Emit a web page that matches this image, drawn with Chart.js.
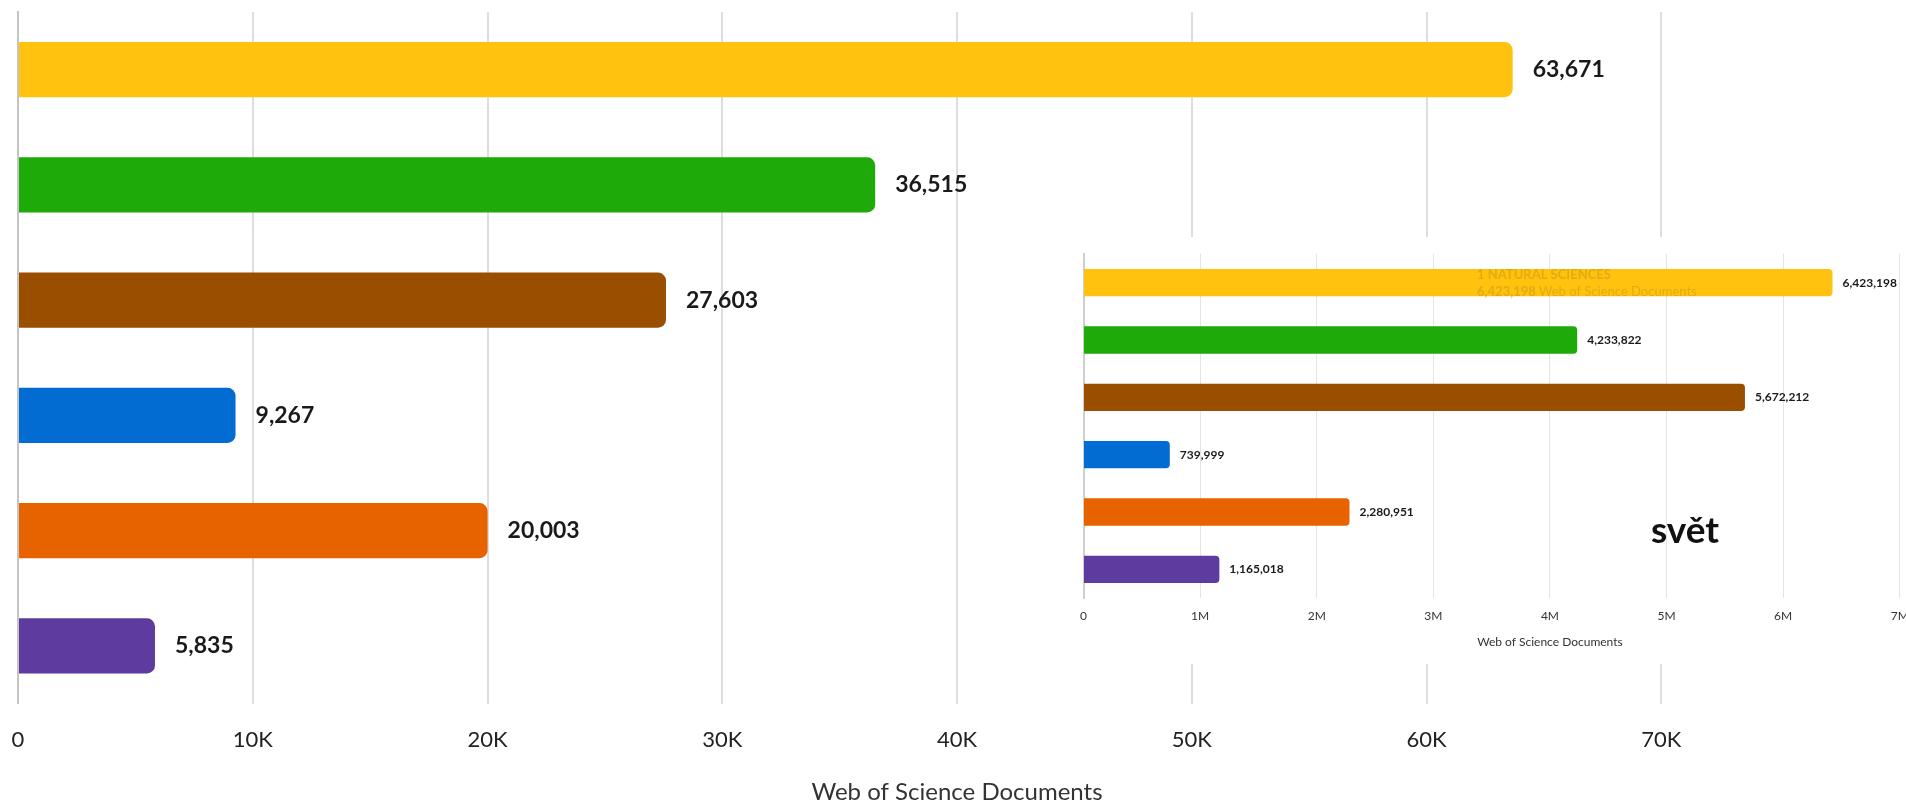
<!DOCTYPE html>
<html lang="cs">
<head>
  <meta charset="UTF-8" />
  <title>Web of Science Documents</title>
  <script src="https://cdn.jsdelivr.net/npm/chart.js"></script>
  <style>
    html, body { margin: 0; padding: 0; background: #fff; overflow: hidden; }
    body { width: 1906px; height: 803px; position: relative; font-family: Lato, "Open Sans", sans-serif; }
    #main { position: absolute; left: 0; top: 0; }
    #insetBox { position: absolute; left: 1040px; top: 237px; width: 866px; height: 427px; background: #fff; overflow: hidden; }
    #inset { position: absolute; left: 0; top: 0; }
    #svet { position: absolute; left: 1685px; top: 528px; transform: translate(-50%, -50%);
            font: 700 37px Lato, sans-serif; color: #111; white-space: nowrap; }
  </style>
</head>
<body>
  <canvas id="main" width="1906" height="803"></canvas>
  <div id="insetBox">
    <canvas id="inset" width="986" height="427"></canvas>
  </div>
  <div id="svet">svět</div>

  <script>
    // categories (y axis labels are hidden in the picture)
    const categories = [
      '1 NATURAL SCIENCES',
      '2 ENGINEERING AND TECHNOLOGY',
      '3 MEDICAL AND HEALTH SCIENCES',
      '4 AGRICULTURAL SCIENCES',
      '5 SOCIAL SCIENCES',
      '6 HUMANITIES'
    ];
    const barColors = ['#FFC20E', '#1EAA08', '#9A4E00', '#036CD2', '#E66300', '#5E3B9E'];

    // main chart (country)
    const docsCountry = [63671, 36515, 27603, 9267, 20003, 5835];
    const countryTicks = [0, 10000, 20000, 30000, 40000, 50000, 60000, 70000];

    // inset chart (svět / world)
    const docsWorld = [6423198, 4233822, 5672212, 739999, 2280951, 1165018];
    const worldTicks = [0, 1e6, 2e6, 3e6, 4e6, 5e6, 6e6, 7e6];

    const axisTitle = 'Web of Science Documents';
    const fmt = n => n.toLocaleString('en-US');

    // draws the value next to the end of each bar
    function valueLabels(font, gap) {
      return {
        id: 'valueLabels',
        afterDatasetsDraw(chart) {
          const ctx = chart.ctx;
          const meta = chart.getDatasetMeta(0);
          const vals = chart.data.datasets[0].data;
          ctx.save();
          ctx.font = font;
          ctx.fillStyle = '#1a1a1a';
          ctx.textBaseline = 'middle';
          ctx.textAlign = 'left';
          meta.data.forEach((bar, i) => {
            ctx.fillText(fmt(vals[i]), bar.x + gap, bar.y);
          });
          ctx.restore();
        }
      };
    }

    // tick padding is doubled by chart.js and also pads the sides,
    // so the label gap is made with an invisible tick mark instead
    new Chart(document.getElementById('main'), {
      type: 'bar',
      data: {
        labels: categories,
        datasets: [{
          data: docsCountry,
          backgroundColor: barColors,
          borderRadius: 8,
          categoryPercentage: 1,
          barPercentage: 0.478
        }]
      },
      options: {
        indexAxis: 'y',
        responsive: false,
        animation: false,
        layout: { padding: { left: 18, right: 10, top: 12, bottom: 0 } },
        plugins: { legend: { display: false }, tooltip: { enabled: false } },
        scales: {
          x: {
            min: 0,
            max: 80000,
            afterBuildTicks: axis => {
              axis.ticks = countryTicks.concat([80000]).map(v => ({ value: v }));
            },
            grid: {
              drawTicks: true,
              tickLength: 23,
              tickColor: 'rgba(0,0,0,0)',
              lineWidth: 2,
              color: c => (c.tick && c.tick.value === 80000) ? 'rgba(0,0,0,0)' : '#dedede'
            },
            border: { display: false },
            ticks: {
              padding: 0,
              color: '#222',
              font: { family: 'Lato', size: 22 },
              callback: v => v === 0 ? '0' : (v >= 80000 ? '' : (v / 1000) + 'K')
            },
            title: {
              display: true,
              text: axisTitle,
              color: '#333',
              font: { family: 'Lato', size: 24, lineHeight: 0.9 },
              padding: { top: 28.5, bottom: 0 }
            }
          },
          y: {
            ticks: { display: false },
            grid: { display: false, drawTicks: false },
            border: { display: true, color: '#c4c4c4', width: 2 }
          }
        }
      },
      plugins: [valueLabels('700 23px Lato', 20)]
    });

    // faint tooltip text left on the first bar of the inset
    const ghostText = {
      id: 'ghostText',
      afterDatasetsDraw(chart) {
        const ctx = chart.ctx;
        const bar = chart.getDatasetMeta(0).data[0];
        const x = chart.chartArea.left + 393.5;
        ctx.save();
        ctx.fillStyle = '#e2ab12';
        ctx.textBaseline = 'middle';
        ctx.font = '700 13px Lato';
        ctx.fillText(categories[0], x, bar.y - 8);
        const num = fmt(docsWorld[0]);
        ctx.fillText(num, x, bar.y + 9);
        const w = ctx.measureText(num + ' ').width;
        ctx.font = '400 13px Lato';
        ctx.fillText(axisTitle, x + w, bar.y + 9);
        ctx.restore();
      }
    };

    new Chart(document.getElementById('inset'), {
      type: 'bar',
      data: {
        labels: categories,
        datasets: [{
          data: docsWorld,
          backgroundColor: barColors,
          borderRadius: 4,
          categoryPercentage: 1,
          barPercentage: 0.478
        }]
      },
      options: {
        indexAxis: 'y',
        responsive: false,
        animation: false,
        layout: { padding: { left: 43.5, right: 9.6, top: 17, bottom: 0 } },
        plugins: { legend: { display: false }, tooltip: { enabled: false } },
        scales: {
          x: {
            min: 0,
            max: 8e6,
            afterBuildTicks: axis => {
              axis.ticks = worldTicks.concat([8e6]).map(v => ({ value: v }));
            },
            grid: {
              drawTicks: true,
              tickLength: 10.8,
              tickColor: 'rgba(0,0,0,0)',
              lineWidth: 1,
              color: '#e4e4e4'
            },
            border: { display: false },
            ticks: {
              padding: 0,
              color: '#333',
              font: { family: 'Lato', size: 12 },
              callback: v => v === 0 ? '0' : (v / 1e6) + 'M'
            },
            title: {
              display: true,
              text: axisTitle,
              color: '#333',
              font: { family: 'Lato', size: 12 },
              padding: { top: 11.6, bottom: 14.8 }
            }
          },
          y: {
            ticks: { display: false },
            grid: { display: false, drawTicks: false },
            border: { display: true, color: '#cfcfcf', width: 2 }
          }
        }
      },
      plugins: [valueLabels('700 12px Lato', 10), ghostText]
    });
  </script>
</body>
</html>
